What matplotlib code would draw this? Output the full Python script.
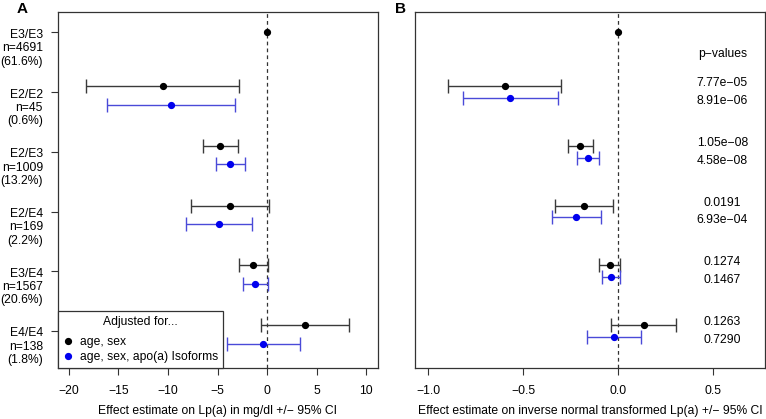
import matplotlib
matplotlib.use("Agg")
import matplotlib.pyplot as plt
import matplotlib.transforms as mtransforms
from matplotlib.lines import Line2D

plt.rcParams['font.family'] = ['Liberation Sans', 'DejaVu Sans']

genotypes = ["E3/E3", "E2/E2", "E2/E3", "E2/E4", "E3/E4", "E4/E4"]
counts = ["n=4691", "n=45", "n=1009", "n=169", "n=1567", "n=138"]
percents = ["(61.6%)", "(0.6%)", "(13.2%)", "(2.2%)", "(20.6%)", "(1.8%)"]

# Panel A: effect on Lp(a) in mg/dl (E3/E3 is reference = 0)
a_base_est = [0.0, -10.5, -4.75, -3.73, -1.38, 3.79]
a_base_lo = [None, -18.24, -6.5, -7.68, -2.85, -0.57]
a_base_hi = [None, -2.79, -2.96, 0.24, 0.08, 8.24]
a_iso_est = [None, -9.74, -3.7, -4.85, -1.17, -0.39]
a_iso_lo = [None, -16.18, -5.15, -8.19, -2.39, -4.07]
a_iso_hi = [None, -3.23, -2.19, -1.54, 0.05, 3.28]

# Panel B: effect on inverse normal transformed Lp(a)
b_base_est = [0.0, -0.598, -0.2, -0.181, -0.044, 0.134]
b_base_lo = [None, -0.895, -0.266, -0.332, -0.102, -0.037]
b_base_hi = [None, -0.302, -0.133, -0.03, 0.012, 0.302]
b_iso_est = [None, -0.568, -0.161, -0.221, -0.037, -0.024]
b_iso_lo = [None, -0.819, -0.217, -0.351, -0.084, -0.166]
b_iso_hi = [None, -0.319, -0.103, -0.093, 0.012, 0.119]

p_base = [None, "7.77e\u221205", "1.05e\u221208", "0.0191", "0.1274", "0.1263"]
p_iso = [None, "8.91e\u221206", "4.58e\u221208", "6.93e\u221204", "0.1467", "0.7290"]

a_xticks = [-20, -15, -10, -5, 0, 5, 10]
b_xticks = [-1.0, -0.5, 0.0, 0.5]

W, H = 766, 419
fig = plt.figure(figsize=(W / 100, H / 100), dpi=100)

axA = fig.add_axes([58 / W, 1 - 368 / H, (378 - 58) / W, (368 - 12) / H])
axB = fig.add_axes([415.3 / W, 1 - 368 / H, (764.7 - 415.3) / W, (368 - 12) / H])

FS = 8.7
black_bar = "#3a3a3a"
blue_bar = "#4a4ad8"
blue_pt = "#0000ee"


def draw(ax, best, blo, bhi, iest, ilo, ihi, off_b, off_i, xlim, xticks, xlabels, xlabel):
    rows = list(range(len(genotypes)))
    ax.axvline(0, color="#333333", lw=0.9, ls=(0, (3, 2.5)), zorder=1)
    for r in rows:
        if blo[r] is None:
            ax.plot([best[r]], [r], 'o', color='black', ms=4.2, zorder=4)
            continue
        yb = r + off_b
        ax.errorbar([best[r]], [yb], xerr=[[best[r] - blo[r]], [bhi[r] - best[r]]],
                    fmt='none', ecolor=black_bar, elinewidth=1.0, capsize=5.2,
                    capthick=1.0, zorder=3)
        ax.plot([best[r]], [yb], 'o', color='black', ms=4.2, zorder=4)
        yi = r + off_i
        ax.errorbar([iest[r]], [yi], xerr=[[iest[r] - ilo[r]], [ihi[r] - iest[r]]],
                    fmt='none', ecolor=blue_bar, elinewidth=1.0, capsize=5.2,
                    capthick=1.0, zorder=3)
        ax.plot([iest[r]], [yi], 'o', color=blue_pt, ms=4.2, zorder=4)
    ax.set_xlim(*xlim)
    ax.set_ylim(5.62, -0.34)
    ax.set_xticks(xticks)
    ax.set_xticklabels(xlabels, fontsize=FS)
    ax.tick_params(axis='x', length=5, width=0.8, pad=7, color='#333333')
    ax.set_xlabel(xlabel, fontsize=FS, labelpad=6)
    for s in ax.spines.values():
        s.set_linewidth(0.9)
        s.set_color('#333333')


draw(axA, a_base_est, a_base_lo, a_base_hi, a_iso_est, a_iso_lo, a_iso_hi,
     -0.1, 0.21, (-21.1, 11.2), a_xticks, [f"{t:d}".replace('-', '\u2212') for t in a_xticks],
     "Effect estimate on Lp(a) in mg/dl +/\u2212 95% CI")
draw(axB, b_base_est, b_base_lo, b_base_hi, b_iso_est, b_iso_lo, b_iso_hi,
     -0.1, 0.1, (-1.068, 0.771), b_xticks, [f"{t:.1f}".replace('-', '\u2212') for t in b_xticks],
     "Effect estimate on inverse normal transformed Lp(a) +/\u2212 95% CI")

# y axis of A with multi-line labels
rows = list(range(len(genotypes)))
axA.set_yticks(rows)
axA.set_yticklabels([])
axA.tick_params(axis='y', length=5, width=0.8, color='#333333')
trans = mtransforms.blended_transform_factory(axA.transAxes, axA.transData)
trans = trans + mtransforms.ScaledTranslation(-15 / 100, 3.5 / 100, fig.dpi_scale_trans)
for r in rows:
    axA.text(0, r, f"{genotypes[r]}\n{counts[r]}\n{percents[r]}", transform=trans,
             ha='right', va='top', ma='right', fontsize=FS, linespacing=1.15)

axB.set_yticks([])

# p-values
axB.text(0.548, 0.36, "p\u2212values", ha='center', va='center', fontsize=FS)
for r in rows:
    if p_base[r] is None:
        continue
    axB.text(0.548, r - 0.15, p_base[r], ha='center', va='center', fontsize=FS)
    axB.text(0.548, r + 0.15, p_iso[r], ha='center', va='center', fontsize=FS)

# legend
handles = [Line2D([], [], ls='none', marker='o', color='black', ms=4.2),
           Line2D([], [], ls='none', marker='o', color=blue_pt, ms=4.2)]
leg = axA.legend(handles, ["age, sex", "age, sex, apo(a) Isoforms"], title="Adjusted for...",
                 loc='lower left', borderaxespad=0, fontsize=FS, title_fontsize=FS,
                 fancybox=False, edgecolor='#333333', framealpha=1, handlelength=0.8,
                 handletextpad=0.6, labelspacing=0.25, borderpad=0.4)
leg.get_frame().set_linewidth(0.9)
leg._legend_box.sep = 6

fig.text(22 / W, 1 - 9 / H, "A", fontsize=11, fontweight='bold', ha='center', va='center')
fig.text(401 / W, 1 - 9 / H, "B", fontsize=11, fontweight='bold', ha='center', va='center')

fig.savefig("out.png", dpi=100)
